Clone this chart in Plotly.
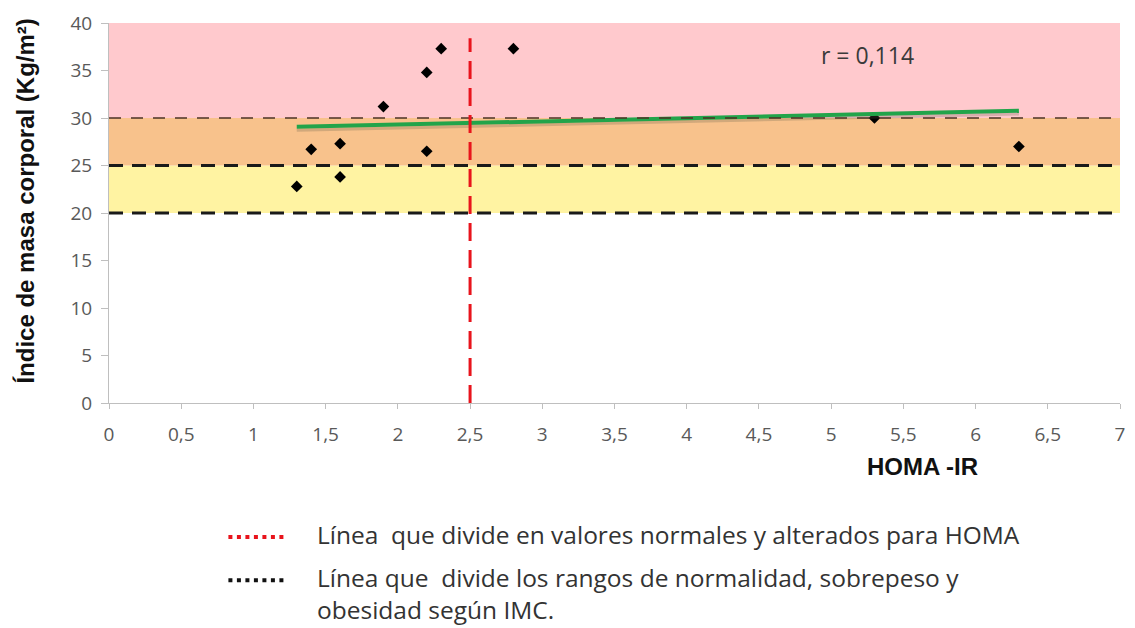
import numpy as np
import plotly.graph_objects as go

# HOMA-IR vs BMI observations
homa_ir = [1.3, 1.4, 1.6, 1.6, 1.9, 2.2, 2.2, 2.3, 2.8, 5.3, 6.3]
imc = [22.8, 26.7, 27.3, 23.8, 31.2, 34.8, 26.5, 37.3, 37.3, 30.0, 27.0]

# BMI category limits (normal / overweight / obesity) and HOMA cut-off
imc_limits = [20, 25, 30, 40]
homa_cutoff = 2.5
homa_cutoff_top = 38.4
r_label = "r = 0,114"

x_ticks = [0, 0.5, 1, 1.5, 2, 2.5, 3, 3.5, 4, 4.5, 5, 5.5, 6, 6.5, 7]
x_ticktext = ["0", "0,5", "1", "1,5", "2", "2,5", "3", "3,5", "4", "4,5", "5", "5,5", "6", "6,5", "7"]
y_ticks = [0, 5, 10, 15, 20, 25, 30, 35, 40]

legend_items = [
    "Línea  que divide en valores normales y alterados para HOMA",
    "Línea que  divide los rangos de normalidad, sobrepeso y<br>obesidad según IMC.",
]

W, H = 1135, 628
L, R, T, B = 109, 10, 17, 225
PW, PH = W - L - R, H - T - B


def px(xp):
    return (xp - L) / PW


def py(yp):
    return (H - B - yp) / PH


LABEL_FONT = "Open Sans, sans-serif"
TITLE_FONT = "Liberation Sans, Arial, sans-serif"

# least-squares trend line over the observed HOMA range
slope, intercept = np.polyfit(homa_ir, imc, 1)
trend_x = [min(homa_ir), max(homa_ir)]
trend_y = [slope * v + intercept for v in trend_x]

fig = go.Figure()

fig.add_trace(go.Scatter(
    x=homa_ir, y=imc, mode="markers",
    marker=dict(symbol="diamond", size=9, color="black"),
    hoverinfo="x+y", showlegend=False,
))
fig.add_trace(go.Scatter(
    x=trend_x, y=[v - 0.35 for v in trend_y], mode="lines",
    line=dict(color="rgba(90,90,70,0.25)", width=3),
    hoverinfo="skip", showlegend=False,
))
fig.add_trace(go.Scatter(
    x=trend_x, y=trend_y, mode="lines",
    line=dict(color="#22A44A", width=4),
    hoverinfo="skip", showlegend=False,
))

shapes = []
# coloured BMI bands
band_colors = ["#FFF3A2", "#F8C28C", "#FFC9CD"]
for lo, hi, col in zip(imc_limits[:-1], imc_limits[1:], band_colors):
    shapes.append(dict(type="rect", xref="x", yref="y", x0=0, x1=7, y0=lo, y1=hi,
                       fillcolor=col, line=dict(width=0), layer="below"))
# BMI dividing lines
shapes.append(dict(type="line", xref="x", yref="y", x0=0, x1=7, y0=imc_limits[0], y1=imc_limits[0],
                   line=dict(color="#1A1A1A", width=3, dash="14px,9px")))
shapes.append(dict(type="line", xref="x", yref="y", x0=0, x1=7, y0=imc_limits[1], y1=imc_limits[1],
                   line=dict(color="#1A1A1A", width=3, dash="14px,9px")))
shapes.append(dict(type="line", xref="x", yref="y", x0=0, x1=7, y0=imc_limits[2], y1=imc_limits[2],
                   line=dict(color="rgba(75,50,35,0.75)", width=2, dash="12px,10px")))
# HOMA cut-off
shapes.append(dict(type="line", xref="x", yref="y", x0=homa_cutoff, x1=homa_cutoff, y0=0, y1=homa_cutoff_top,
                   line=dict(color="#E8141C", width=3, dash="18px,9px"), layer="above"))
# legend swatches
shapes.append(dict(type="line", xref="paper", yref="paper", x0=px(229), x1=px(286), y0=py(539), y1=py(539),
                   line=dict(color="#E8141C", width=4, dash="4px,4.5px")))
shapes.append(dict(type="line", xref="paper", yref="paper", x0=px(229), x1=px(286), y0=py(583), y1=py(583),
                   line=dict(color="#111111", width=4, dash="4px,4.5px")))

annotations = [
    dict(text=r_label, xref="x", yref="y", x=5.25, y=36.6, showarrow=False,
         font=dict(family=LABEL_FONT, size=23, color="#3A3A3A"), xanchor="center", yanchor="middle"),
    dict(text="Índice de masa corporal (Kg/m²)", xref="paper", yref="paper", x=px(25), y=py(198),
         textangle=-90, showarrow=False, xanchor="center", yanchor="middle",
         font=dict(family=TITLE_FONT, size=24, color="#111111", weight="bold")),
    dict(text="HOMA -IR", xref="paper", yref="paper", x=px(927), y=py(467), showarrow=False,
         xanchor="center", yanchor="middle",
         font=dict(family=TITLE_FONT, size=24, color="#111111", weight="bold")),
    dict(text=legend_items[0], xref="paper", yref="paper", x=px(316), y=py(537), showarrow=False,
         xanchor="left", yanchor="middle", align="left",
         font=dict(family=LABEL_FONT, size=24.5, color="#333333")),
    dict(text=legend_items[1], xref="paper", yref="paper", x=px(316), y=py(597), showarrow=False,
         xanchor="left", yanchor="middle", align="left",
         font=dict(family=LABEL_FONT, size=24.5, color="#333333")),
]

fig.update_layout(
    width=W, height=H,
    margin=dict(l=L, r=R, t=T, b=B),
    paper_bgcolor="white", plot_bgcolor="white",
    shapes=shapes, annotations=annotations,
    showlegend=False,
    xaxis=dict(range=[0, 7], tickvals=x_ticks, ticktext=x_ticktext,
               showgrid=False, zeroline=False, showline=True, linecolor="#BFBFBF", linewidth=1,
               ticks="outside", ticklen=5, tickcolor="#BFBFBF", ticklabelstandoff=9,
               tickfont=dict(family=LABEL_FONT, size=19, color="#595959")),
    yaxis=dict(range=[0, 40], tickvals=y_ticks,
               showgrid=False, zeroline=False, showline=True, linecolor="#BFBFBF", linewidth=1,
               ticks="outside", ticklen=7, tickcolor="#BFBFBF", ticklabelstandoff=5,
               tickfont=dict(family=LABEL_FONT, size=19, color="#595959")),
)

fig.write_html("out.html")
